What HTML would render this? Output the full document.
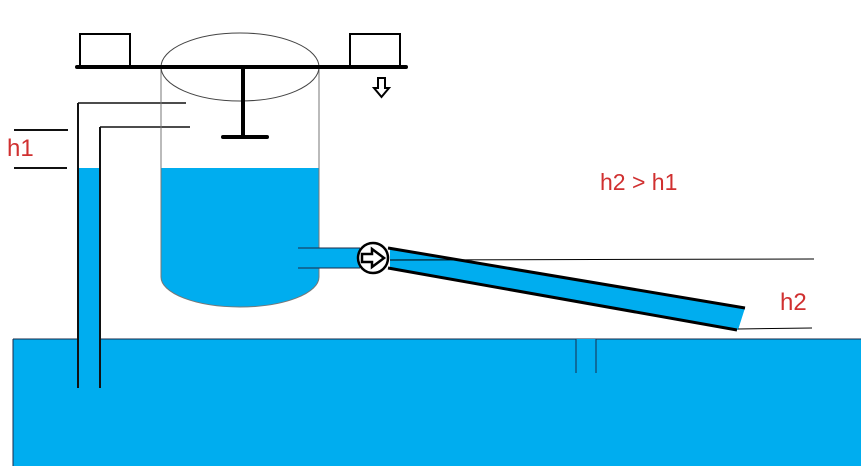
<!DOCTYPE html>
<html><head><meta charset="utf-8"><style>html,body{margin:0;padding:0;background:#fff}svg{display:block}</style></head>
<body>
<svg width="861" height="466" viewBox="0 0 861 466" xmlns="http://www.w3.org/2000/svg">
<rect width="861" height="466" fill="#fff"/>
<rect x="13" y="339" width="848" height="127" fill="#00ADEF"/>
<line x1="13" y1="339" x2="861" y2="339" stroke="#1a2a4a" stroke-width="1"/>
<line x1="13" y1="339" x2="13" y2="466" stroke="#1a2a4a" stroke-width="1"/>
<rect x="576" y="339" width="20" height="34" fill="#00ADEF"/>
<line x1="576" y1="339" x2="576" y2="373" stroke="#1a2a4a" stroke-width="1"/>
<line x1="596" y1="339" x2="596" y2="373" stroke="#1a2a4a" stroke-width="1"/>
<rect x="78" y="168" width="22" height="220" fill="#00ADEF"/>
<line x1="78" y1="103" x2="78" y2="388" stroke="#111" stroke-width="2"/>
<line x1="100" y1="127" x2="100" y2="388" stroke="#111" stroke-width="2"/>
<line x1="78" y1="103" x2="186" y2="103" stroke="#111" stroke-width="1.5"/>
<line x1="100" y1="127" x2="190" y2="127" stroke="#111" stroke-width="1.5"/>
<line x1="14" y1="130" x2="68" y2="130" stroke="#111" stroke-width="2"/>
<line x1="14" y1="168" x2="67" y2="168" stroke="#111" stroke-width="2"/>
<text x="7" y="156" font-family="Liberation Sans, sans-serif" font-size="24" fill="#d03030">h1</text>
<path d="M161 168 L319 168 L319 277 A79 30 0 0 1 161 277 Z" fill="#00ADEF"/>
<path d="M161 67 L161 277 A79 30 0 0 0 319 277 L319 67" fill="none" stroke="#777" stroke-width="1"/>
<ellipse cx="240" cy="67" rx="79" ry="34" fill="none" stroke="#444" stroke-width="1"/>
<line x1="77" y1="67" x2="406" y2="67" stroke="#000" stroke-width="4" stroke-linecap="round"/>
<rect x="80" y="34" width="50" height="33" fill="none" stroke="#000" stroke-width="2"/>
<rect x="350" y="34" width="50" height="33" fill="none" stroke="#000" stroke-width="2"/>
<line x1="243" y1="67" x2="243" y2="137" stroke="#000" stroke-width="4"/>
<line x1="223" y1="137" x2="267" y2="137" stroke="#000" stroke-width="4" stroke-linecap="round"/>
<path d="M378 78 L385 78 L385 88 L389 88 L381.5 97 L374 88 L378 88 Z" fill="#fff" stroke="#000" stroke-width="2"/>
<rect x="298" y="248" width="62" height="20" fill="#00ADEF"/>
<line x1="298" y1="248" x2="360" y2="248" stroke="#1a2a4a" stroke-width="1"/>
<line x1="298" y1="268" x2="360" y2="268" stroke="#1a2a4a" stroke-width="1"/>
<polygon points="390,248 745,308 738,330 390,268" fill="#00ADEF"/>
<line x1="388" y1="248" x2="745" y2="308" stroke="#000" stroke-width="3"/>
<line x1="388" y1="268" x2="737" y2="330" stroke="#000" stroke-width="3"/>
<line x1="390" y1="260" x2="814" y2="259" stroke="#000" stroke-width="1"/>
<line x1="738" y1="329" x2="812" y2="328" stroke="#000" stroke-width="1"/>
<circle cx="373" cy="258" r="15" fill="#fff" stroke="#000" stroke-width="2.5"/>
<path d="M362 254 L372 254 L372 249 L384 258 L372 267 L372 262 L362 262 Z" fill="#fff" stroke="#000" stroke-width="2.5"/>
<text x="780" y="310" font-family="Liberation Sans, sans-serif" font-size="24" fill="#d03030">h2</text>
<text x="600" y="190" font-family="Liberation Sans, sans-serif" font-size="23" fill="#d03030">h2 &gt; h1</text>
</svg>
</body></html>
